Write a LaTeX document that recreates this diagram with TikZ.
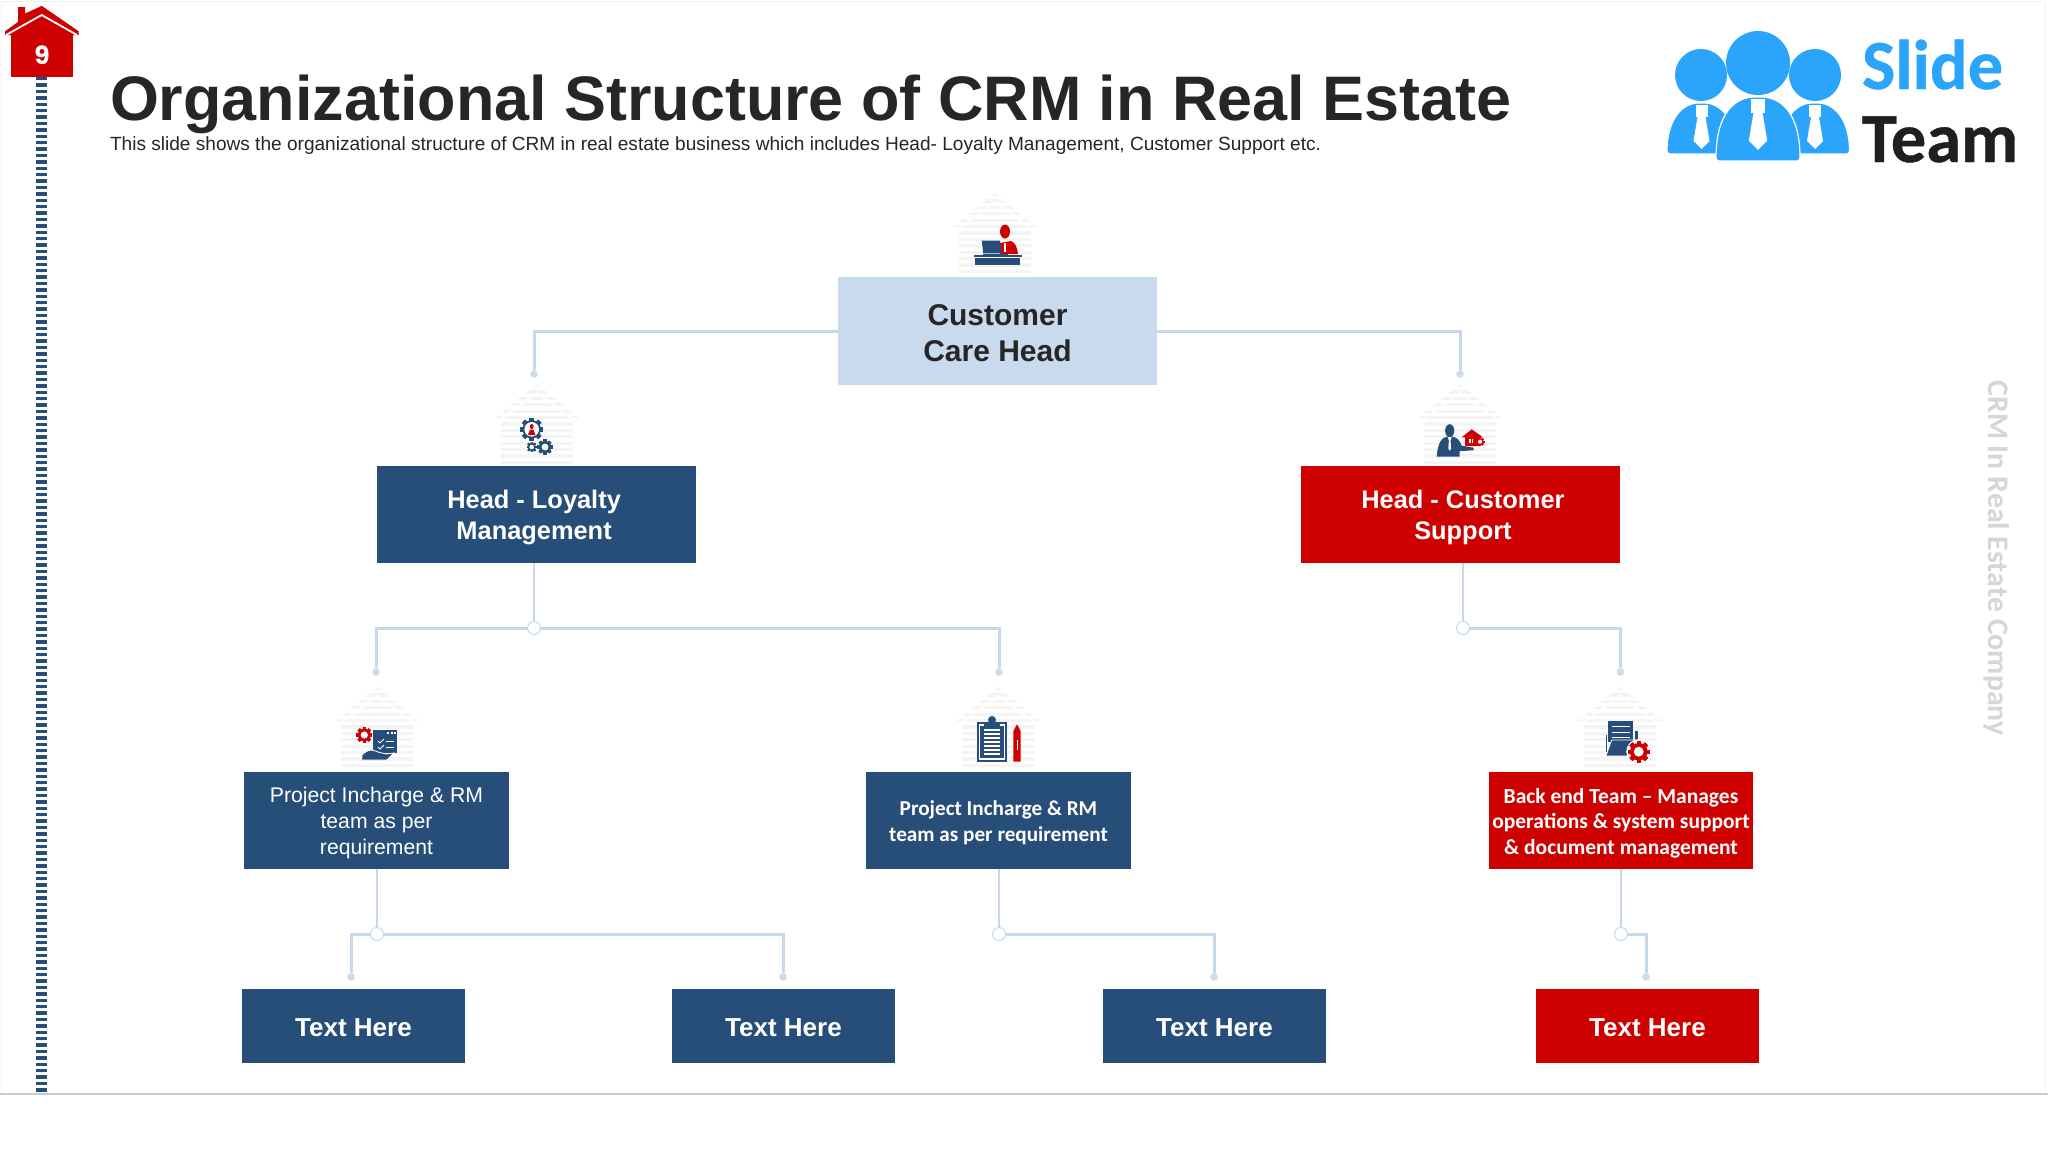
\documentclass[tikz,border=0pt]{standalone}
\usepackage{fontspec}
\setmainfont{Liberation Sans}
\newfontfamily\carlito{Carlito}
\newfontfamily\logofont[BoldFeatures={FakeBold=0.6}]{Carlito}
\newfontfamily\popfont{Poppins}
\definecolor{navy}{HTML}{264E78}
\definecolor{crimson}{HTML}{CE0000}
\definecolor{paleblue}{HTML}{C9D9EE}
\definecolor{linkblue}{HTML}{C8D8EC}
\definecolor{dotblue}{HTML}{CFDAEA}
\definecolor{ink}{HTML}{262626}
\definecolor{logoblue}{HTML}{2AA5FB}
\definecolor{wm}{HTML}{F4F4F4}
\tikzset{
  boxsize/.style 2 args={minimum width=#1*0.5pt,minimum height=#2*0.5pt,inner sep=0pt,outer sep=0pt},
  navybox/.style={fill=navy},
  redbox/.style={fill=crimson},
  rootbox/.style={fill=paleblue},
  boxlabel/.style={inner sep=0pt,outer sep=0pt,align=center,text=white},
  rootfont/.style={boxlabel,text=ink,font=\fontsize{15}{18}\selectfont\bfseries},
  headfont/.style={boxlabel,font=\fontsize{12.7}{15.5}\selectfont\bfseries},
  leaffont/.style={boxlabel,font=\fontsize{13}{15}\selectfont\bfseries},
  plainfont/.style={boxlabel,font=\fontsize{10.6}{12.9}\selectfont},
  midfont/.style={boxlabel,font=\carlito\fontsize{10.6}{12.9}\selectfont\bfseries},
  teamfont/.style={boxlabel,font=\carlito\fontsize{10.75}{12.8}\selectfont\bfseries},
  junction/.style={circle,draw=linkblue,line width=0.5pt,fill=white,minimum size=6.5pt,inner sep=0pt,outer sep=0pt},
  enddot/.style={circle,fill=dotblue,minimum size=3.8pt,inner sep=0pt,outer sep=0pt},
  link/.style={draw=linkblue,line width=1.5pt},
  thinlink/.style={draw=linkblue,line width=1pt},
  txt/.style={inner sep=0pt,outer sep=0pt},
}
% faint striped house behind each icon
\newcommand\wmhouse[2]{\begin{scope}[shift={(#1,#2)}]
  \begin{scope}
  \clip (0,0) -- (42,34) -- (36,34) -- (36,80) -- (-36,80) -- (-36,34) -- (-42,34) -- cycle;
  \foreach \k in {0,...,12}{\fill[wm] (-44,\k*6.4) rectangle (44,\k*6.4+3.2);}
  \end{scope}
  \draw[white,line width=0.9pt] (-37,36) -- (0,9) -- (37,36);
\end{scope}}
% gear: centre, radius, colour
\newcommand\gearmark[4]{\begin{scope}[shift={(#1,#2)},scale=#3]
  \foreach \a in {0,45,...,315}{\fill[#4,rotate=\a] (-0.2,-1) rectangle (0.2,1);}
  \fill[#4] (0,0) circle (0.8);
  \fill[white] (0,0) circle (0.45);
\end{scope}}
% little person: centre of head
\newcommand\personmark[3]{\begin{scope}[shift={(#1,#2)},scale=#3]
  \fill[navy] (0,0) ellipse (4.6 and 6.5);
  \fill[navy] (-13,26) .. controls (-12,12) and (-8,7) .. (-3,6) -- (3,6) .. controls (8,7) and (10,10) .. (12,15) -- (24,17) -- (24,19.5) -- (10,20.5) -- (10,26) -- cycle;
  \fill[white] (-2,6.5) -- (2,6.5) -- (0.8,10) -- (1.4,18) -- (0,20) -- (-1.4,18) -- (-0.8,10) -- cycle;
\end{scope}}
% logo body with tie
\newcommand\logobody[5]{\fill[logoblue,draw=white,line width=0.6pt,rounded corners=1.5pt] (#1-#2,#4) .. controls (#1-#2,#3+16) and (#1-#2*0.55,#3) .. (#1,#3) .. controls (#1+#2*0.55,#3) and (#1+#2,#3+16) .. (#1+#2,#4) -- cycle;
  \begin{scope}[shift={(#1,#3)},scale=#5]
  \fill[white] (-6,2) rectangle (6,14);
  \fill[white] (-4,14) -- (4,14) -- (8,38) -- (0,46) -- (-8,38) -- cycle;
  \end{scope}}
\begin{document}
\begin{tikzpicture}[x=0.5pt,y=-0.5pt]
\useasboundingbox (0,0) rectangle (2048,1152);
\fill[white] (0,0) rectangle (2048,1152);
% slide frame
\draw[gray!10,line width=0.5pt] (1,1094) -- (1,1) -- (2045,1) -- (2045,1094);
\draw[gray!40,line width=0.7pt] (0,1094) -- (2048,1094);
% page marker strip
\draw[navy,line width=5.5pt,dash pattern=on 1.65pt off 1.55pt] (41.5,77) -- (41.5,1092);
% house marker
\fill[crimson] (11,77) -- (72.7,77) -- (72.7,35) -- (11,35) -- cycle;
\fill[crimson] (5,35) -- (5,31.5) -- (18,22) -- (18,7) -- (25,7) -- (25,13.5) -- (41.7,6) -- (78.7,31.5) -- (78.7,35) -- cycle;
\fill[crimson] (41.7,6) -- (78.7,31.5) -- (5,31.5) -- cycle;
\draw[white,line width=0.9pt] (6,35) -- (41.7,15) -- (77,35);
\node[txt,text=white,font=\popfont\fontsize{12.5}{14}\selectfont\bfseries] (pagenum) at (42,55) {9};
% title
\node[txt,anchor=base west,text=ink,font=\fontsize{31.45}{36}\selectfont\bfseries] (title) at (110,120) {Organizational Structure of CRM in Real Estate};
\node[txt,anchor=base west,text=ink,font=\fontsize{9.54}{12}\selectfont] (subtitle) at (110,150) {This slide shows the organizational structure of CRM in real estate business which includes Head- Loyalty Management, Customer Support etc.};
% logo
\fill[logoblue] (1701,75) circle (26);
\fill[logoblue] (1815,75) circle (26);
\fill[logoblue] (1758,63) circle (32);
\logobody{1701.5}{34.5}{103}{154}{1}
\logobody{1815}{34.5}{103}{154}{1}
\logobody{1758}{42}{97}{161}{1.15}
\node[txt,anchor=base west,text=logoblue,font=\logofont\fontsize{35.2}{36}\selectfont\bfseries] (slide) at (1862,89) {Slide};
\node[txt,anchor=base west,text=black!88,font=\logofont\fontsize{35.2}{36}\selectfont\bfseries] (team) at (1862,162) {Team};
% side caption
\node[txt,rotate=-90,text=gray!32,font=\carlito\fontsize{14.9}{18}\selectfont\bfseries] (side) at (1997,558) {CRM In Real Estate Company};
% watermark houses
\wmhouse{995}{193}
\wmhouse{537}{384}
\wmhouse{1460}{384}
\wmhouse{377}{687}
\wmhouse{998}{687}
\wmhouse{1620}{687}
% boxes
\node[boxsize={319}{108},rootbox] (root) at (997.5,331) {};
\node[rootfont,yshift=-1pt] (rootlabel) at (root.center) {Customer\\Care Head};
\node[boxsize={319}{97},navybox] (loyal) at (536.5,514.5) {};
\node[headfont,yshift=-1.7pt,xshift=-1.2pt] (loyallabel) at (loyal.center) {Head - Loyalty\\Management};
\node[boxsize={319}{97},redbox] (support) at (1460.5,514.5) {};
\node[headfont,yshift=-1.7pt,xshift=1.2pt] (supportlabel) at (support.center) {Head - Customer\\Support};
\node[boxsize={265}{97},navybox] (pa) at (376.5,820.5) {};
\node[plainfont,yshift=-1.25pt] (palabel) at (pa.center) {Project Incharge \& RM\\team as per\\requirement};
\node[boxsize={265}{97},navybox] (pb) at (998.5,820.5) {};
\node[midfont,yshift=-1.25pt] (pblabel) at (pb.center) {Project Incharge \& RM\\team as per requirement};
\node[boxsize={264}{97},redbox] (be) at (1621,820.5) {};
\node[teamfont,yshift=-1.25pt] (belabel) at (be.center) {Back end Team – Manages\\operations \& system support\\\& document management};
\node[boxsize={223}{74},navybox] (t1) at (353.5,1026) {};
\node[leaffont,yshift=-1pt] (t1label) at (t1.center) {Text Here};
\node[boxsize={223}{74},navybox] (t2) at (783.5,1026) {};
\node[leaffont,yshift=-1pt] (t2label) at (t2.center) {Text Here};
\node[boxsize={223}{74},navybox] (t3) at (1214.5,1026) {};
\node[leaffont,yshift=-1pt] (t3label) at (t3.center) {Text Here};
\node[boxsize={223}{74},redbox] (t4) at (1647.5,1026) {};
\node[leaffont,yshift=-1pt] (t4label) at (t4.center) {Text Here};
% connector ends
\node[enddot] (d1) at (534,374) {};
\node[enddot] (d2) at (1460,374) {};
\node[enddot] (d3) at (376,672) {};
\node[enddot] (d4) at (999,672) {};
\node[enddot] (d5) at (1620.5,672) {};
\node[enddot] (d6) at (351,977) {};
\node[enddot] (d7) at (783,977) {};
\node[enddot] (d8) at (1214,977) {};
\node[enddot] (d9) at (1646,977) {};
\node[junction] (j1) at (534,628) {};
\node[junction] (j2) at (1463,628) {};
\node[junction] (j3) at (377,934) {};
\node[junction] (j4) at (999,934) {};
\node[junction] (j5) at (1621,934) {};
% connectors
\draw[link] (root.west) -| (d1);
\draw[link] (root.east) -| (d2);
\draw[thinlink] (j1 |- loyal.south) -- (j1);
\draw[link] (j1.west) -| (d3);
\draw[link] (j1.east) -| (d4);
\draw[thinlink] (j2 |- support.south) -- (j2);
\draw[link] (j2.east) -| (d5);
\draw[thinlink] (j3 |- pa.south) -- (j3);
\draw[link] (j3.west) -| (d6);
\draw[link] (j3.east) -| (d7);
\draw[thinlink] (j4 |- pb.south) -- (j4);
\draw[link] (j4.east) -| (d8);
\draw[thinlink] (j5 |- be.south) -- (j5);
\draw[link] (j5.east) -| (d9);
% icon: person at desk
\fill[crimson] (1005,231.5) ellipse (5 and 7);
\fill[crimson] (1000,243) -- (1011,241) .. controls (1015,243) and (1017,246) .. (1018,254) -- (1000,254) -- cycle;
\fill[white] (1003.5,243) rectangle (1006,252);
\fill[navy] (981.7,240.7) -- (1000,240.7) -- (1001.7,253.3) -- (983.3,253.3) -- cycle;
\fill[navy] (983,253.6) rectangle (1008,255);
\fill[navy] (974,255.3) rectangle (1021.7,257);
\fill[navy] (975.3,257.7) rectangle (1020,265.3);
% icon: gears
\gearmark{531.7}{429.3}{11.5}{navy}
\fill[white] (531.7,429.3) circle (7.3);
\fill[crimson] (531.7,426.5) ellipse (1.9 and 2.6);
\fill[crimson] (528,435) -- (530,429.5) -- (533.4,429.5) -- (535.4,435) -- cycle;
\gearmark{531.7}{447}{5.2}{navy}
\gearmark{545}{447}{7.6}{navy}
% icon: person with house
\personmark{1449.7}{430.7}{1}
\fill[crimson] (1461.7,437.3) -- (1471.7,429.3) -- (1483,437.3) -- (1480,437.3) -- (1480,446) -- (1465,446) -- (1465,437.3) -- cycle;
\fill[white] (1469,439) rectangle (1473,443);
\fill[crimson] (1470.7,439) rectangle (1471.3,443);
\gearmark{1480}{441.7}{4.5}{crimson}
% icon: service window on hand
\fill[navy] (372.7,730) rectangle (397.3,753);
\draw[white,line width=0.5pt] (378,741) -- (380,743) -- (384,739);
\draw[white,line width=0.5pt] (378,747) -- (380,749) -- (384,745);
\draw[white,line width=0.5pt] (386,741) -- (394,741);
\draw[white,line width=0.5pt] (386,747) -- (394,747);
\fill[white] (387,732) rectangle (389,734);
\fill[white] (390.5,732) rectangle (392.5,734);
\fill[white] (394,732) rectangle (396,734);
\fill[navy,draw=white,line width=0.4pt] (361.7,760) -- (362,755) .. controls (368,749) and (372,749) .. (378,752) -- (386,754) -- (394,753) -- (387,760) -- cycle;
\gearmark{364.3}{735}{8}{crimson}
% icon: clipboard and pencil
\fill[navy] (976.7,721.7) rectangle (1007.3,761.7);
\draw[white,line width=0.6pt] (979.5,725) rectangle (1004.5,759);
\fill[navy] (984,722) rectangle (1000,726);
\fill[navy] (992,720) circle (4);
\foreach \yy in {730,734,738,742,746,750,754}{\draw[white,line width=0.6pt] (984,\yy) -- (1000,\yy);}
\fill[crimson] (1017,724.3) -- (1020.7,731) -- (1020.7,761.7) -- (1013.3,761.7) -- (1013.3,731) -- cycle;
\draw[white,line width=0.3pt] (1017.5,740) -- (1017.5,750);
% icon: folder and gear
\fill[navy] (1605.5,735) rectangle (1606.5,752);
\fill[navy] (1608.3,721) rectangle (1633,742);
\fill[navy] (1635,731) rectangle (1638,742);
\foreach \yy in {726,732,737}{\draw[white,line width=0.5pt] (1612,\yy) -- (1630,\yy);}
\fill[navy,draw=white,line width=0.3pt] (1606,756) -- (1611.7,740) -- (1644,740) -- (1640,756) -- cycle;
\fill[white] (1638.7,751.7) circle (12.5);
\gearmark{1638.7}{751.7}{11}{crimson}
\end{tikzpicture}
\end{document}
